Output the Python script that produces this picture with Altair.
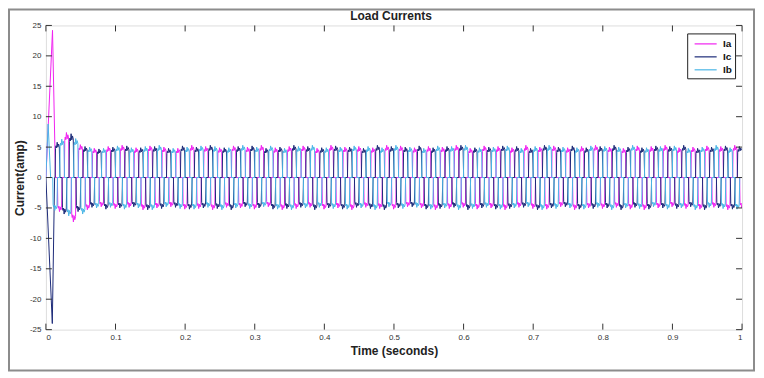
import altair as alt
import pandas as pd

# ---------------- data ----------------
series_names = ["Ia", "Ic", "Ib"]
series_colors = ["#f022f0", "#1c2a78", "#4ab6e6"]
chart_title = "Load Currents"

# start-up transient points (time s, current A)
ia_trans_t = [0.0, 0.0095, 0.0138]
ia_trans_v = [0.0, 24.2, 0.0]
ic_trans_t = [0.0, 0.0092, 0.0125]
ic_trans_v = [0.0, -24.0, 0.0]
ib_trans_t = [0.0, 0.0032, 0.0068]
ib_trans_v = [0.0, 8.8, 0.0]

# plateau (120 deg conduction) shape read from one half cycle: offset in ms, relative level
plateau_offsets_ms = [-3.5, -2.9, -2.2, -1.4, -0.5, 0.5, 1.5, 2.6, 3.4]
plateau_shape = [0.0, 0.82, 0.90, 0.84, 1.0, 0.86, 0.95, 0.88, 0.0]

# peak level of each half cycle (first centre time, then one value per 20 ms)
ia_pos_start = 0.03
ia_pos = [7.4, 5.4, 4.8, 5.1, 5.3, 4.9, 5.2, 5.0, 4.8, 5.3,
          5.1, 4.9, 5.2, 5.0, 5.3, 4.9, 5.1, 5.2, 4.8, 5.3,
          5.0, 5.1, 4.9, 5.3, 5.2, 4.9, 5.1, 5.0, 5.3, 4.8,
          5.2, 5.1, 4.9, 5.3, 5.0, 5.2, 4.9, 5.1, 5.3, 5.0,
          4.8, 5.2, 5.1, 5.3, 4.9, 5.0, 5.2, 5.1, 5.3]
ia_neg_start = 0.02
ia_neg = [-5.6, -7.3, -5.3, -4.8, -5.1, -4.9, -5.3, -5.0, -4.8, -5.2,
          -5.1, -5.3, -4.9, -5.0, -5.2, -4.8, -5.3, -5.1, -4.9, -5.2,
          -5.0, -5.3, -4.9, -5.1, -5.2, -4.8, -5.0, -5.3, -5.1, -4.9,
          -5.2, -5.0, -5.3, -4.9, -5.1, -5.2, -4.8, -5.3, -5.0, -5.1,
          -4.9, -5.2, -5.3, -5.0, -4.8, -5.1, -5.2, -4.9, -5.3, -5.0]

ic_pos_start = 0.0167
ic_pos = [5.8, 7.2, 5.1, 4.7, 5.0, 5.2, 4.9, 5.1, 4.8, 5.2,
          5.0, 5.3, 4.9, 5.1, 5.2, 4.8, 5.0, 5.3, 5.1, 4.9,
          5.2, 5.0, 4.8, 5.3, 5.1, 5.0, 5.2, 4.9, 5.1, 5.3,
          4.9, 5.0, 5.2, 5.1, 4.8, 5.3, 5.0, 5.2, 4.9, 5.1,
          5.3, 5.0, 4.9, 5.2, 5.1, 5.3, 4.8, 5.0, 5.2, 5.1]
ic_neg_start = 0.0267
ic_neg = [-6.0, -5.6, -4.9, -5.2, -5.0, -4.8, -5.3, -5.1, -4.9, -5.2,
          -5.0, -5.1, -5.3, -4.8, -5.0, -5.2, -5.1, -4.9, -5.3, -5.0,
          -5.2, -4.9, -5.1, -5.3, -5.0, -4.8, -5.2, -5.1, -4.9, -5.3,
          -5.0, -5.2, -5.1, -4.9, -5.3, -5.0, -4.8, -5.2, -5.1, -5.0,
          -5.3, -4.9, -5.2, -5.0, -5.1, -4.8, -5.3, -5.0, -5.2]

ib_pos_start = 0.0233
ib_pos = [6.3, 6.4, 5.0, 4.8, 5.2, 4.9, 5.1, 5.3, 4.8, 5.0,
          5.2, 5.1, 4.9, 5.3, 5.0, 5.2, 4.8, 5.1, 5.3, 4.9,
          5.0, 5.2, 5.1, 4.9, 5.3, 5.0, 4.8, 5.2, 5.1, 5.3,
          4.9, 5.0, 5.2, 4.8, 5.1, 5.3, 5.0, 4.9, 5.2, 5.1,
          5.0, 5.3, 4.9, 5.1, 5.2, 4.8, 5.0, 5.3, 4.9]
ib_neg_start = 0.0133
ib_neg = [-5.4, -6.3, -6.0, -5.0, -4.9, -5.2, -5.0, -5.3, -4.8, -5.1,
          -5.2, -4.9, -5.3, -5.0, -5.1, -4.8, -5.2, -5.3, -5.0, -4.9,
          -5.1, -5.2, -5.0, -5.3, -4.8, -5.1, -4.9, -5.2, -5.0, -5.3,
          -5.1, -4.9, -5.2, -5.0, -4.8, -5.3, -5.1, -5.0, -5.2, -4.9,
          -5.3, -5.0, -5.1, -4.8, -5.2, -5.0, -5.3, -4.9, -5.1, -5.2]

x_ticks = [0, 0.1, 0.2, 0.3, 0.4, 0.5, 0.6, 0.7, 0.8, 0.9, 1]
y_ticks = [-25, -20, -15, -10, -5, 0, 5, 10, 15, 20, 25]


def build(name, tt, tv, pos_start, pos_vals, neg_start, neg_vals):
    rows = list(zip(tt, tv))
    for start, vals in ((pos_start, pos_vals), (neg_start, neg_vals)):
        for k, level in enumerate(vals):
            c = start + 0.02 * k
            for off, f in zip(plateau_offsets_ms, plateau_shape):
                t = c + off / 1000.0
                if 0 <= t <= 1.0:
                    rows.append((t, level * f))
    rows.sort()
    return pd.DataFrame({"t": [r[0] for r in rows], "i": [r[1] for r in rows], "series": name})


df = pd.concat([
    build("Ia", ia_trans_t, ia_trans_v, ia_pos_start, ia_pos, ia_neg_start, ia_neg),
    build("Ic", ic_trans_t, ic_trans_v, ic_pos_start, ic_pos, ic_neg_start, ic_neg),
    build("Ib", ib_trans_t, ib_trans_v, ib_pos_start, ib_pos, ib_neg_start, ib_neg),
], ignore_index=True)
df["ord"] = range(len(df))

W, H = 698, 305
FONT = "Liberation Sans"

xscale = alt.Scale(domain=[0, 1], nice=False, zero=False)
yscale = alt.Scale(domain=[-25, 25], nice=False, zero=False)

x_axis = alt.Axis(values=x_ticks, title="Time (seconds)", ticks=False, domain=False,
                  grid=False, labelExpr="'' + datum.value", labelFontSize=8,
                  labelFont=FONT, labelColor="#333", labelPadding=4, labelOverlap=False,
                  titleFont=FONT, titleFontSize=12, titleFontWeight="bold",
                  titleColor="#222", titlePadding=4)
y_axis = alt.Axis(values=y_ticks, title="Current(amp)", ticks=False, domain=False,
                  grid=False, labelExpr="'' + datum.value", labelFontSize=8,
                  labelFont=FONT, labelColor="#333", labelPadding=5, labelOverlap=False,
                  titleFont=FONT, titleFontSize=12, titleFontWeight="bold",
                  titleColor="#222", titlePadding=3)

lines = alt.Chart(df).mark_line(strokeWidth=1, clip=True).encode(
    x=alt.X("t:Q", scale=xscale, axis=x_axis),
    y=alt.Y("i:Q", scale=yscale, axis=y_axis),
    color=alt.Color("series:N", scale=alt.Scale(domain=series_names, range=series_colors),
                    legend=alt.Legend(title=None, orient="none", legendX=643, legendY=8,
                                      strokeColor="#222", fillColor="white", padding=3,
                                      symbolType="M-1.7,0H1.7", symbolSize=169, symbolStrokeWidth=1.2,
                                      symbolOffset=8, labelFont=FONT, labelFontSize=10,
                                      labelFontWeight="bold", labelColor="#111", rowPadding=0,
                                      labelOffset=10)),
    order=alt.Order("ord:Q"),
)

xt = pd.DataFrame({"v": x_ticks})
yt = pd.DataFrame({"v": y_ticks})
tick_style = dict(color="#333", strokeWidth=1)
xb = alt.Chart(xt).mark_rule(**tick_style).encode(
    x=alt.X("v:Q", scale=xscale, axis=x_axis), y=alt.value(H), y2=alt.value(H - 6))
xtop = alt.Chart(xt).mark_rule(**tick_style).encode(
    x=alt.X("v:Q", scale=xscale, axis=x_axis), y=alt.value(0), y2=alt.value(6))
yl = alt.Chart(yt).mark_rule(**tick_style).encode(
    y=alt.Y("v:Q", scale=yscale, axis=y_axis), x=alt.value(0), x2=alt.value(6))
yr = alt.Chart(yt).mark_rule(**tick_style).encode(
    y=alt.Y("v:Q", scale=yscale, axis=y_axis), x=alt.value(W), x2=alt.value(W - 6))

border = alt.Chart(pd.DataFrame({"a": [0]})).mark_rect(filled=False, stroke="#8c8c8c", strokeWidth=2).encode(
    x=alt.value(-37), x2=alt.value(710), y=alt.value(-16), y2=alt.value(346))

title = alt.Chart(pd.DataFrame({"label": [chart_title]})).mark_text(
    font=FONT, fontSize=12, fontWeight="bold", color="#222", baseline="middle", align="center"
).encode(text="label:N", x=alt.value(W / 2 - 3), y=alt.value(-9.5))

chart = alt.layer(border, lines, xb, xtop, yl, yr, title).properties(
    width=W, height=H,
    autosize=alt.AutoSizeParams(type="none"),
    padding={"left": 38, "top": 17, "right": 14, "bottom": 44},
).configure_view(stroke="#333", strokeWidth=1).configure(background="white")

chart.save("out.html", embed_options={"renderer": "svg", "actions": False})
